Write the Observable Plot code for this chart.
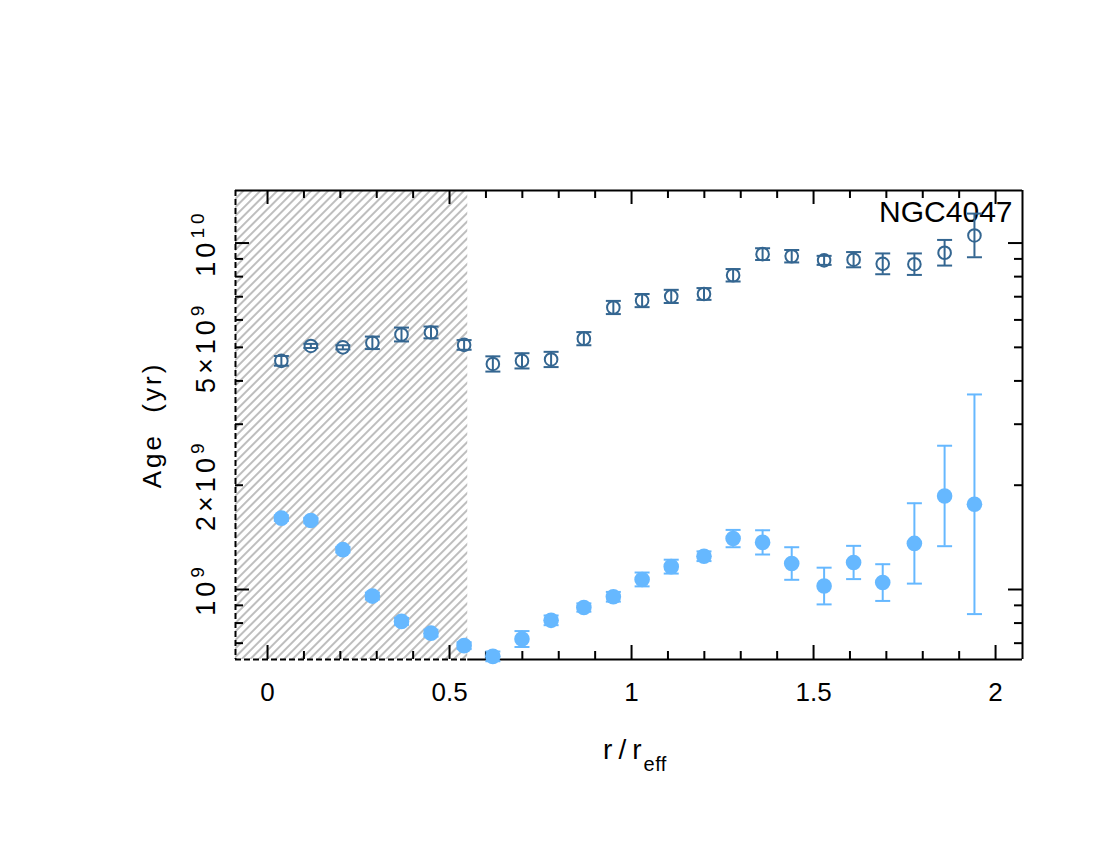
<!DOCTYPE html>
<html>
<head>
<meta charset="utf-8">
<script src="https://cdn.jsdelivr.net/npm/d3@7"></script>
<script src="https://cdn.jsdelivr.net/npm/@observablehq/plot@0.6"></script>
<style>
  html, body { margin: 0; padding: 0; background: #ffffff; }
  #chart svg { display: block; }
</style>
</head>
<body>
<div id="chart"></div>
<script>
// ---- data ----
const radius = [0.038, 0.119, 0.207, 0.288, 0.368, 0.449, 0.540, 0.619, 0.699, 0.779, 0.869, 0.950,
                1.029, 1.109, 1.199, 1.279, 1.360, 1.440, 1.529, 1.610, 1.690, 1.777, 1.860, 1.942];
// older population (open circles), log10 age and error in dex
const logAgeOld = [9.660, 9.703, 9.699, 9.712, 9.736, 9.742, 9.706, 9.651, 9.660, 9.664, 9.724, 9.814,
                   9.834, 9.846, 9.853, 9.907, 9.968, 9.962, 9.950, 9.952, 9.940, 9.939, 9.972, 10.022];
const errOld = [0.014, 0.006, 0.006, 0.018, 0.020, 0.017, 0.014, 0.022, 0.022, 0.022, 0.019, 0.019,
                0.019, 0.019, 0.017, 0.018, 0.017, 0.018, 0.013, 0.022, 0.030, 0.031, 0.037, 0.063];
// younger population (filled circles)
const logAgeYoung = [9.206, 9.199, 9.115, 8.981, 8.908, 8.874, 8.838, 8.807, 8.857, 8.911, 8.948, 8.979,
                     9.029, 9.066, 9.096, 9.147, 9.136, 9.075, 9.010, 9.078, 9.020, 9.133, 9.270, 9.246];
const errYoung = [0.008, 0.008, 0.008, 0.010, 0.010, 0.010, 0.010, 0.014, 0.023, 0.014, 0.012, 0.014,
                  0.020, 0.020, 0.014, 0.025, 0.035, 0.047, 0.053, 0.048, 0.053, 0.116, 0.145, 0.317];

const xMajorTicks = [0, 0.5, 1, 1.5, 2];
const xMinorTicks = [0.1, 0.2, 0.3, 0.4, 0.6, 0.7, 0.8, 0.9, 1.1, 1.2, 1.3, 1.4, 1.6, 1.7, 1.8, 1.9];
const xTickLabels = ["0", "0.5", "1", "1.5", "2"];
const yMajorTicks = [1e9, 1e10];
const yMinorTicks = [7e8, 8e8, 9e8, 2e9, 3e9, 4e9, 5e9, 6e9, 7e9, 8e9, 9e9];
const yLabelTicks = [1e9, 2e9, 5e9, 1e10];
const yTickLabels = ["10^9", "2×10^9", "5×10^9", "10^10"];
const xDomain = [-0.088, 2.074];
const yDomain = [6.28e8, 1.418e10];
const maskLimit = 0.55;
const galaxyName = "NGC4047";
const xTitle = "r/r_eff";
const yTitle = "Age  (yr)";

// ---- build tables ----
const older = radius.map((r, i) => ({
  r, age: 10 ** logAgeOld[i],
  lo: 10 ** (logAgeOld[i] - errOld[i]), hi: 10 ** (logAgeOld[i] + errOld[i])
}));
const younger = radius.map((r, i) => ({
  r, age: 10 ** logAgeYoung[i],
  lo: 10 ** (logAgeYoung[i] - errYoung[i]), hi: 10 ** (logAgeYoung[i] + errYoung[i])
}));

const W = 1100, H = 850;
const mL = 235, mR = 78, mT = 190, mB = 191;
const fw = W - mL - mR, fh = H - mT - mB;
const majorLen = 14, minorLen = 8;
const darkBlue = "#346691", lightBlue = "#66b8ff";
const capSymbol = { draw(ctx, size) { const w = Math.sqrt(size / Math.PI); ctx.moveTo(-w, 0); ctx.lineTo(w, 0); } };

const tickMarks = [];
for (const [ticks, len] of [[xMajorTicks, majorLen], [xMinorTicks, minorLen]]) {
  tickMarks.push(Plot.ruleX(ticks, { x: d => d, insetTop: fh - len, strokeWidth: 2 }));
  tickMarks.push(Plot.ruleX(ticks, { x: d => d, insetBottom: fh - len, strokeWidth: 2 }));
}
for (const [ticks, len] of [[yMajorTicks, majorLen], [yMinorTicks, minorLen]]) {
  tickMarks.push(Plot.ruleY(ticks, { y: d => d, insetRight: fw - len, strokeWidth: 2 }));
  tickMarks.push(Plot.ruleY(ticks, { y: d => d, insetLeft: fw - len, strokeWidth: 2 }));
}

const chart = Plot.plot({
  width: W, height: H,
  marginLeft: mL, marginRight: mR, marginTop: mT, marginBottom: mB,
  style: { fontFamily: "'Liberation Sans', Arial, sans-serif", fontSize: "26px", background: "#ffffff", overflow: "visible" },
  x: { domain: xDomain, axis: null },
  y: { type: "log", domain: yDomain, axis: null },
  marks: [
    // hatched masked region
    Plot.rect([0], { x1: xDomain[0], x2: maskLimit, y1: yDomain[0], y2: yDomain[1], fill: "url(#hatch)" }),
    // frame
    Plot.ruleY([yDomain[1]], { y: d => d, strokeWidth: 2 }),
    Plot.ruleX([xDomain[1]], { x: d => d, strokeWidth: 2 }),
    Plot.ruleY([yDomain[0]], { y: d => d, x1: maskLimit, x2: xDomain[1], strokeWidth: 2 }),
    Plot.ruleY([yDomain[0]], { y: d => d, x1: xDomain[0], x2: maskLimit, strokeWidth: 2, strokeDasharray: "6,3" }),
    Plot.ruleX([xDomain[0]], { x: d => d, strokeWidth: 2, strokeDasharray: "6,3" }),
    ...tickMarks,
    // tick labels
    Plot.text(xMajorTicks, { x: d => d, text: (d, i) => xTickLabels[i], frameAnchor: "bottom", lineAnchor: "middle", dy: 33, fontSize: 26 }),
    Plot.text(yLabelTicks, { y: d => d, text: (d, i) => yTickLabels[i], frameAnchor: "left", lineAnchor: "middle", dx: -29, rotate: -90, textAnchor: "middle", fontSize: 27 }),
    // titles
    Plot.text([yTitle], { text: d => d, frameAnchor: "left", lineAnchor: "middle", dx: -83, rotate: -90, textAnchor: "middle", fontSize: 26 }),
    Plot.text([xTitle], { text: d => d, frameAnchor: "bottom", lineAnchor: "middle", dx: 6, dy: 91, textAnchor: "middle", fontSize: 28 }),
    Plot.text([galaxyName], { text: d => d, frameAnchor: "top-right", lineAnchor: "middle", dx: -10, dy: 22, textAnchor: "end", fontSize: 30 }),
    // younger population
    Plot.ruleX(younger, { x: "r", y1: "lo", y2: "hi", stroke: lightBlue, strokeWidth: 2 }),
    Plot.dot(younger, { x: "r", y: "lo", symbol: capSymbol, r: 7.5, fill: "none", stroke: lightBlue, strokeWidth: 2 }),
    Plot.dot(younger, { x: "r", y: "hi", symbol: capSymbol, r: 7.5, fill: "none", stroke: lightBlue, strokeWidth: 2 }),
    Plot.dot(younger, { x: "r", y: "age", r: 7.8, fill: lightBlue, stroke: "none" }),
    // older population
    Plot.dot(older, { x: "r", y: "age", r: 6.3, fill: "white", stroke: darkBlue, strokeWidth: 2 }),
    Plot.ruleX(older, { x: "r", y1: "lo", y2: "hi", stroke: darkBlue, strokeWidth: 2 }),
    Plot.dot(older, { x: "r", y: "lo", symbol: capSymbol, r: 7.5, fill: "none", stroke: darkBlue, strokeWidth: 2 }),
    Plot.dot(older, { x: "r", y: "hi", symbol: capSymbol, r: 7.5, fill: "none", stroke: darkBlue, strokeWidth: 2 })
  ]
});

// hatch pattern definition
const NS = "http://www.w3.org/2000/svg";
const defs = document.createElementNS(NS, "defs");
const pat = document.createElementNS(NS, "pattern");
pat.setAttribute("id", "hatch");
pat.setAttribute("patternUnits", "userSpaceOnUse");
pat.setAttribute("width", "6");
pat.setAttribute("height", "10");
pat.setAttribute("patternTransform", "rotate(45)");
const pl = document.createElementNS(NS, "line");
pl.setAttribute("x1", "1"); pl.setAttribute("y1", "0");
pl.setAttribute("x2", "1"); pl.setAttribute("y2", "10");
pl.setAttribute("stroke", "#a8a8a8");
pl.setAttribute("stroke-width", "1.5");
pat.appendChild(pl);
defs.appendChild(pat);
chart.insertBefore(defs, chart.firstChild);

// superscripts / subscripts
chart.querySelectorAll("text").forEach(t => {
  const s = t.textContent;
  let m;
  if ((m = s.match(/^(.*)\^(.*)$/))) {
    t.textContent = "";
    t.appendChild(document.createTextNode(m[1]));
    const ts = document.createElementNS(NS, "tspan");
    ts.setAttribute("dy", "-11");
    ts.setAttribute("font-size", "19");
    ts.textContent = m[2];
    t.appendChild(ts);
    t.setAttribute("letter-spacing", "4");
  } else if ((m = s.match(/^(.*)_(.*)$/))) {
    t.textContent = "";
    t.appendChild(document.createTextNode(m[1]));
    const ts = document.createElementNS(NS, "tspan");
    ts.setAttribute("dx", "-4");
    ts.setAttribute("dy", "12");
    ts.setAttribute("font-size", "20");
    ts.setAttribute("letter-spacing", "0.5");
    ts.textContent = m[2];
    t.appendChild(ts);
    t.setAttribute("letter-spacing", "6");
  } else if (s === yTitle) {
    t.setAttribute("letter-spacing", "3");
  }
});

document.getElementById("chart").appendChild(chart);
</script>
</body>
</html>
